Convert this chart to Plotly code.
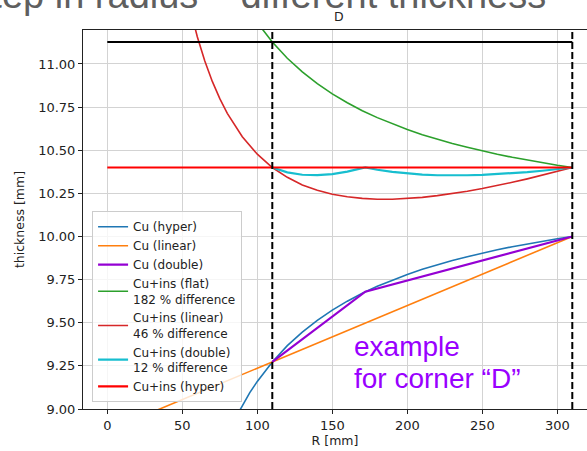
import plotly.graph_objects as go

# ---------------- data ----------------
R_cu_hyper = [85, 90, 95, 100, 110, 120, 130, 140, 150, 160, 170, 180, 190, 200,
              210, 220, 230, 240, 250, 260, 270, 280, 290, 300, 310]
cu_hyper = [8.941, 9.022, 9.095, 9.160, 9.273, 9.367, 9.446, 9.514, 9.573, 9.625,
            9.671, 9.711, 9.747, 9.780, 9.810, 9.836, 9.861, 9.883, 9.904, 9.923,
            9.941, 9.957, 9.972, 9.987, 10.000]

R_cu_linear = [30, 110, 310]
cu_linear = [8.982, 9.273, 10.000]

R_cu_double = [110, 172, 310]
cu_double = [9.273, 9.680, 10.000]

R_flat = [100, 110, 120, 130, 140, 150, 160, 170, 180, 190, 200, 210, 220, 230,
          240, 250, 260, 270, 280, 290, 300, 310]
cuins_flat = [11.240, 11.127, 11.033, 10.954, 10.886, 10.827, 10.775, 10.729, 10.689,
              10.653, 10.620, 10.590, 10.564, 10.539, 10.517, 10.496, 10.477, 10.459,
              10.443, 10.428, 10.413, 10.400]

R_ins_linear = [55, 60, 65, 70, 75, 80, 90, 100, 110, 120, 130, 140, 150, 160, 170,
                180, 190, 200, 210, 220, 230, 240, 250, 260, 270, 280, 290, 300, 310]
cuins_linear = [11.328, 11.158, 11.017, 10.899, 10.799, 10.714, 10.578, 10.477, 10.400,
                10.343, 10.299, 10.268, 10.245, 10.230, 10.221, 10.216, 10.216, 10.220,
                10.227, 10.237, 10.249, 10.262, 10.278, 10.295, 10.314, 10.334, 10.355,
                10.377, 10.400]

R_ins_double = [110, 120, 130, 140, 150, 160, 172, 180, 190, 200, 210, 220, 230, 240,
                250, 260, 270, 280, 290, 300, 310]
cuins_double = [10.400, 10.372, 10.358, 10.356, 10.362, 10.376, 10.401, 10.387, 10.375,
                10.365, 10.359, 10.355, 10.354, 10.355, 10.357, 10.361, 10.366, 10.373,
                10.381, 10.390, 10.400]

R_ins_hyper = [0, 310]
cuins_hyper = [10.4, 10.4]

R_max = [0, 310]
max_thickness = [11.128, 11.128]

corner_R = [110, 310]

x_ticks = [0, 50, 100, 150, 200, 250, 300]
y_ticks = [9.00, 9.25, 9.50, 9.75, 10.00, 10.25, 10.50, 10.75, 11.00]

series = [
    ("Cu (hyper)", R_cu_hyper, cu_hyper, "#1f77b4", 1.6),
    ("Cu (linear)", R_cu_linear, cu_linear, "#ff7f0e", 1.6),
    ("Cu (double)", R_cu_double, cu_double, "#9400d3", 2.2),
    ("Cu+ins (flat)<br>182 % difference", R_flat, cuins_flat, "#2ca02c", 1.6),
    ("Cu+ins (linear)<br>46 % difference", R_ins_linear, cuins_linear, "#d62728", 1.6),
    ("Cu+ins (double)<br>12 % difference", R_ins_double, cuins_double, "#17becf", 2.2),
    ("Cu+ins (hyper)", R_ins_hyper, cuins_hyper, "#ff0000", 2.2),
]

fig = go.Figure()
for name, xs, ys, col, lw in series:
    fig.add_trace(go.Scatter(x=xs, y=ys, mode="lines", name=name,
                             line=dict(color=col, width=lw)))

fig.add_trace(go.Scatter(x=R_max, y=max_thickness, mode="lines", showlegend=False,
                         line=dict(color="black", width=2)))

for xv in corner_R:
    fig.add_vline(x=xv, line=dict(color="black", width=2, dash="7px,3px"))

FONT = "DejaVu Sans"
axis_common = dict(
    showgrid=True, gridcolor="#d3d3d3", gridwidth=1, zeroline=False,
    showline=True, linecolor="#222", linewidth=1,
    ticks="outside", ticklen=4, tickcolor="#222",
    tickfont=dict(family=FONT, size=13, color="#222"),
)

fig.update_xaxes(range=[-16.2, 319.8], tickvals=x_ticks, mirror=True,
                 title=dict(text="R [mm]", font=dict(family=FONT, size=12.5, color="#222"),
                            standoff=0),
                 **axis_common)
fig.update_yaxes(range=[9.0, 11.197], tickvals=y_ticks, tickformat=".2f",
                 title=dict(text="thickness [mm]", font=dict(family=FONT, size=12.5, color="#222"),
                            standoff=10),
                 **axis_common)

fig.update_layout(
    width=587, height=451,
    margin=dict(l=83, r=0, t=30, b=42, autoexpand=False),
    plot_bgcolor="white", paper_bgcolor="white",
    font=dict(family=FONT, size=12, color="#222"),
    legend=dict(x=0.018, y=0.018, xanchor="left", yanchor="bottom",
                bgcolor="rgba(255,255,255,0.8)", bordercolor="#cccccc", borderwidth=1,
                font=dict(family=FONT, size=12, color="#222"),
                tracegroupgap=0),
    showlegend=True,
)

# panel title "D"
fig.add_annotation(text="D", xref="paper", yref="paper", x=0.508, y=1.0,
                   xanchor="center", yanchor="bottom", yshift=4, showarrow=False,
                   font=dict(family=FONT, size=12.5, color="#222"))

# slide title (cropped at the top of the picture)
fig.add_annotation(text="Step in radius \u2013 different thickness", xref="paper", yref="paper",
                   x=-0.236, y=1.0, xanchor="left", yanchor="bottom", yshift=12,
                   showarrow=False,
                   font=dict(family="Liberation Sans", size=38, color="#5f5f5f"))

# purple note
fig.add_annotation(text="example", xref="paper", yref="paper",
                   x=(352 - 83) / 504, y=1 + (30 - 358) / 379, xanchor="left", yanchor="bottom",
                   yshift=-6, showarrow=False,
                   font=dict(family="Liberation Sans", size=28, color="#9900ff"))
fig.add_annotation(text="for corner \u201cD\u201d", xref="paper", yref="paper",
                   x=(352 - 83) / 504, y=1 + (30 - 390) / 379, xanchor="left", yanchor="bottom",
                   yshift=-6, showarrow=False,
                   font=dict(family="Liberation Sans", size=28, color="#9900ff"))

fig.write_html("out.html", config={"displayModeBar": False},
               post_script="document.body.style.margin='0';")
